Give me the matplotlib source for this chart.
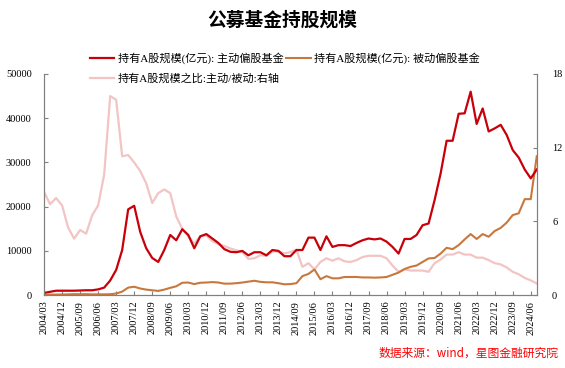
import matplotlib
matplotlib.use("Agg")
import matplotlib.pyplot as plt
import numpy as np

plt.rcParams['font.family'] = ['Liberation Serif', 'Noto Sans CJK SC']
plt.rcParams['axes.unicode_minus'] = False

# quarterly dates 2004/03 .. 2024/09
quarters = [f"{y}/{m:02d}" for y in range(2004, 2025) for m in (3, 6, 9, 12)][:83]

active = [500, 750, 1000, 1000, 1000, 1000, 1050, 1100, 1100, 1300,
          1700, 3300, 5700, 10200, 19400, 20200, 14300, 10600, 8400, 7500,
          10200, 13600, 12400, 14900, 13600, 10600, 13300, 13800, 12800, 11800,
          10400, 9800, 9700, 10000, 9000, 9700, 9700, 9000, 10200, 10000,
          8800, 8800, 10200, 10200, 13000, 13000, 10200, 13300, 10900, 11300,
          11300, 11100, 11800, 12400, 12800, 12600, 12800, 12100, 10900, 9400,
          12700, 12700, 13600, 15800, 16200, 21500, 27500, 34900, 34900, 41000,
          41100, 46000, 38700, 42200, 37000, 37700, 38500, 36200, 32800, 31100,
          28400, 26400, 28400]

passive = [60, 100, 130, 140, 180, 220, 200, 220, 170, 180,
           175, 200, 360, 800, 1700, 1900, 1500, 1250, 1100, 950,
           1250, 1650, 2000, 2800, 2850, 2500, 2800, 2850, 2950, 2850,
           2600, 2600, 2700, 2850, 3050, 3250, 3000, 2900, 2900, 2700,
           2450, 2500, 2700, 4300, 4800, 5800, 3600, 4300, 3800, 3800,
           4100, 4100, 4100, 4000, 4000, 3950, 4000, 4100, 4600, 5100,
           5900, 6400, 6700, 7500, 8300, 8400, 9400, 10700, 10400, 11300,
           12600, 13800, 12700, 13800, 13200, 14500, 15200, 16400, 18100, 18500,
           21700, 21700, 31400]

ratio = [8.4, 7.4, 7.9, 7.3, 5.5, 4.6, 5.3, 5.0, 6.5, 7.3,
         9.8, 16.2, 15.9, 11.3, 11.4, 10.8, 10.1, 9.1, 7.5, 8.3,
         8.6, 8.3, 6.4, 5.4, 4.8, 4.2, 4.8, 4.85, 4.4, 4.15,
         4.0, 3.8, 3.65, 3.5, 2.95, 3.0, 3.25, 3.2, 3.55, 3.55,
         3.4, 3.5, 3.7, 2.3, 2.6, 2.1, 2.7, 3.0, 2.8, 3.0,
         2.75, 2.7, 2.85, 3.1, 3.2, 3.2, 3.2, 3.0, 2.4, 1.9,
         2.1, 2.0, 2.0, 2.0, 1.9, 2.6, 2.9, 3.3, 3.3, 3.5,
         3.3, 3.3, 3.05, 3.05, 2.85, 2.6, 2.5, 2.25, 1.9, 1.7,
         1.4, 1.2, 0.95]

labels = ["持有A股规模(亿元): 主动偏股基金",
          "持有A股规模(亿元): 被动偏股基金",
          "持有A股规模之比:主动/被动:右轴"]

red = "#C8000A"
orange = "#C8783C"
pink = "#F2C4C4"
gray = "#808080"

x = np.arange(len(quarters))

fig = plt.figure(figsize=(5.65, 3.68), dpi=100)
ax = fig.add_axes([0.078, 0.198, 0.872, 0.601])
ax2 = ax.twinx()

l3, = ax2.plot(x, ratio, color=pink, lw=1.6, zorder=1)
ax.set_zorder(ax2.get_zorder() + 1)
ax.patch.set_visible(False)
l2, = ax.plot(x, passive, color=orange, lw=1.5)
l1, = ax.plot(x, active, color=red, lw=1.6)

ax.set_xlim(0, len(quarters) - 1)
ax.set_ylim(0, 50000)
ax2.set_ylim(0, 18)
ax.set_yticks(range(0, 50001, 10000))
ax2.set_yticks([0, 6, 12, 18])
ax.set_xticks(x[::3])
ax.set_xticklabels(quarters[::3], rotation=90, fontsize=7.5)

for a in (ax, ax2):
    a.spines['top'].set_visible(False)
    for s in ('left', 'right', 'bottom'):
        a.spines[s].set_color(gray)
    a.tick_params(direction='in', length=3, color=gray, labelsize=7.5)
ax.tick_params(axis='y', pad=9)
ax2.tick_params(axis='y', pad=11)
ax.tick_params(axis='x', pad=4)

fig.text(0.5, 0.946, "公募基金持股规模", ha='center', va='center',
         fontsize=13.5, fontweight='bold', family=['Noto Sans CJK SC'])

fig.legend([l1, l3, l2], [labels[0], labels[2], labels[1]], ncol=2,
           loc='upper left', bbox_to_anchor=(0.159, 0.858), frameon=False,
           fontsize=8, handlelength=2.2, handletextpad=0.35,
           columnspacing=0.2, labelspacing=0.8, borderpad=0, borderaxespad=0)

fig.text(0.989, 0.041, "数据来源：wind，星图金融研究院", ha='right', va='center',
         color='red', fontsize=8.5, style='italic',
         family=['Noto Sans CJK SC', 'DejaVu Sans'])

fig.savefig("out.png", dpi=100)
